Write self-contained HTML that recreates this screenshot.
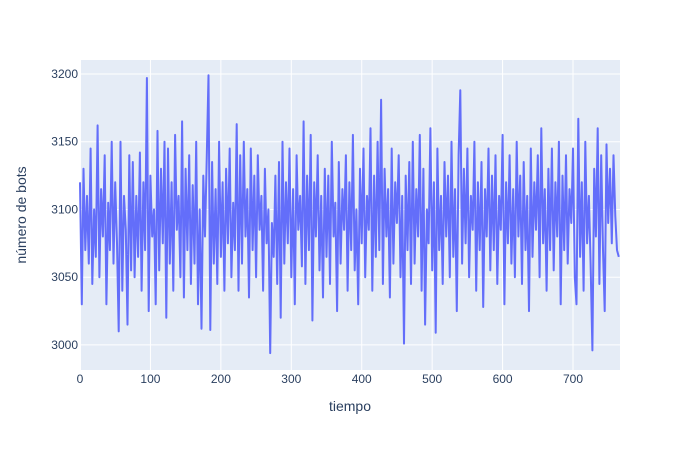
<!DOCTYPE html>
<html><head><meta charset="utf-8"><style>
html,body{margin:0;padding:0;background:#fff;}
svg text{font-family:"Liberation Sans",Arial,sans-serif;fill:#2a3f5f;}
</style></head><body>
<svg id="chart" width="700" height="450" xmlns="http://www.w3.org/2000/svg">
<rect x="80" y="60" width="540" height="310" fill="#e5ecf6"/>
<g id="grid"></g>
<g id="xticks"></g>
<g id="yticks"></g>
<path id="series" fill="none" stroke="#636efa" stroke-width="2" stroke-linejoin="round"/>
<text x="350" y="411" text-anchor="middle" font-size="14">tiempo</text>
<text transform="translate(26,215) rotate(-90)" text-anchor="middle" font-size="14">número de bots</text>
</svg>
<script>
const values = [
3120,3030,3130,3070,3110,3060,3145,3045,3100,3065,
3162,3050,3115,3080,3140,3030,3105,3070,3150,3060,
3120,3075,3010,3150,3040,3110,3085,3015,3140,3055,
3135,3050,3110,3065,3142,3040,3120,3070,3197,3025,
3125,3080,3100,3030,3158,3055,3130,3075,3150,3020,
3145,3060,3120,3040,3155,3085,3110,3050,3165,3035,
3130,3070,3140,3045,3118,3060,3150,3030,3100,3012,
3125,3080,3140,3199,3011,3135,3060,3115,3045,3150,
3065,3120,3040,3130,3075,3145,3050,3105,3070,3163,
3040,3140,3060,3150,3080,3115,3035,3145,3070,3125,
3050,3140,3085,3110,3040,3130,3075,3100,2994,3090,
3065,3125,3045,3135,3020,3150,3060,3120,3075,3145,
3050,3115,3030,3140,3085,3110,3058,3165,3045,3125,
3070,3155,3018,3120,3080,3140,3055,3110,3035,3130,
3065,3125,3045,3150,3080,3105,3025,3135,3060,3115,
3085,3140,3040,3120,3070,3155,3055,3100,3030,3130,
3075,3145,3050,3110,3085,3160,3040,3125,3065,3150,
3070,3181,3045,3130,3080,3115,3035,3145,3060,3120,
3090,3140,3050,3110,3001,3125,3070,3135,3045,3150,
3060,3115,3080,3155,3040,3130,3015,3100,3075,3160,
3055,3120,3009,3145,3070,3110,3045,3135,3080,3125,
3050,3150,3065,3115,3025,3140,3188,3060,3130,3075,
3145,3050,3110,3085,3150,3040,3120,3070,3135,3028,
3115,3080,3145,3055,3125,3070,3140,3045,3110,3085,
3155,3030,3120,3075,3140,3060,3115,3050,3150,3080,
3125,3045,3135,3070,3110,3025,3145,3065,3120,3085,
3140,3050,3160,3075,3115,3040,3130,3070,3145,3055,
3120,3080,3150,3030,3125,3070,3140,3060,3115,3090,
3145,3050,3030,3167,3065,3120,3040,3150,3075,3110,
3060,2996,3130,3080,3160,3045,3140,3070,3025,3148,
3090,3130,3075,3140,3095,3070,3065
];
const timeStep = 2.5;
const xTicks = [0,100,200,300,400,500,600,700];
const yTicks = [3000,3050,3100,3150,3200];

const X0=80,X1=620,Y0=60,Y1=370;
const xMin=0,xMax=766.7,yMin=2981.5,yMax=3210.3;
function sx(v){return X0+(v-xMin)/(xMax-xMin)*(X1-X0);}
function sy(v){return Y1-(v-yMin)/(yMax-yMin)*(Y1-Y0);}
const NS="http://www.w3.org/2000/svg";
const grid=document.getElementById('grid');
const xt=document.getElementById('xticks');
const yt=document.getElementById('yticks');
xTicks.forEach(t=>{
  const l=document.createElementNS(NS,'line');
  
  
  l.setAttribute('x1',sx(t));l.setAttribute('x2',sx(t));l.setAttribute('y1',Y0);l.setAttribute('y2',Y1);
  l.setAttribute('stroke','#fff');l.setAttribute('stroke-width',t===0?2:1);
  grid.appendChild(l);
  const tx=document.createElementNS(NS,'text');
  
  
  tx.setAttribute('x',sx(t));tx.setAttribute('y',383);tx.setAttribute('text-anchor','middle');tx.setAttribute('font-size','12');
  tx.textContent=t;xt.appendChild(tx);
});
yTicks.forEach(t=>{
  const l=document.createElementNS(NS,'line');
  
  
  l.setAttribute('x1',X0);l.setAttribute('x2',X1);l.setAttribute('y1',sy(t));l.setAttribute('y2',sy(t));
  l.setAttribute('stroke','#fff');l.setAttribute('stroke-width',1);
  grid.appendChild(l);
  const tx=document.createElementNS(NS,'text');
  
  
  tx.setAttribute('x',78);tx.setAttribute('y',sy(t)+4);tx.setAttribute('text-anchor','end');tx.setAttribute('font-size','12');
  tx.textContent=t;yt.appendChild(tx);
});
let d='';
values.forEach((v,i)=>{d+=(i?'L':'M')+sx(i*timeStep).toFixed(1)+','+sy(v).toFixed(1);});
document.getElementById('series').setAttribute('d',d);
</script>
</body></html>
